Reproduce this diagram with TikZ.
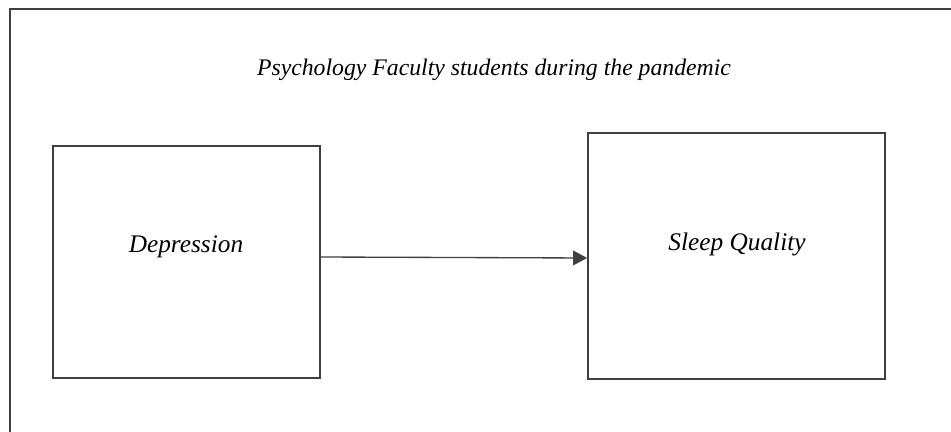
\documentclass[tikz,border=0pt]{standalone}
\usepackage{fontspec}
\setmainfont{Liberation Serif}
\usetikzlibrary{arrows.meta}
\definecolor{linegray}{HTML}{404040}
\tikzset{
  box/.style={draw=linegray, line width=1.3pt, minimum width=#1},
  lbl/.style={font=\fontsize{19}{22}\selectfont\itshape},
}
\begin{document}
\begin{tikzpicture}[x=0.75pt, y=-0.75pt]
            \clip (0,0) rectangle (951,432);
            \fill[white] (0,0) rectangle (951,432);
            \draw[linegray, line width=1.5pt] (10,440) -- (10,9) -- (960,9);
            \node[font=\fontsize{17.8}{21}\selectfont\itshape] (title) at (494,70) {Psychology Faculty students during the pandemic};
            \node[box=200.25pt, minimum height=174pt] (depbox) at (186.5,262) {};
            \node[box=222.75pt, minimum height=184.5pt] (sleepbox) at (736.5,256) {};
            \node[lbl] (dep) at (186,247) {Depression};
            \node[lbl] (sleep) at (737,244) {Sleep Quality};
            \draw[-{Triangle[length=10.5pt,width=11pt]}, linegray, line width=1pt] ([yshift=3.75pt]depbox.east) -- ([yshift=-1.5pt]sleepbox.west);
        \end{tikzpicture}
\end{document}
